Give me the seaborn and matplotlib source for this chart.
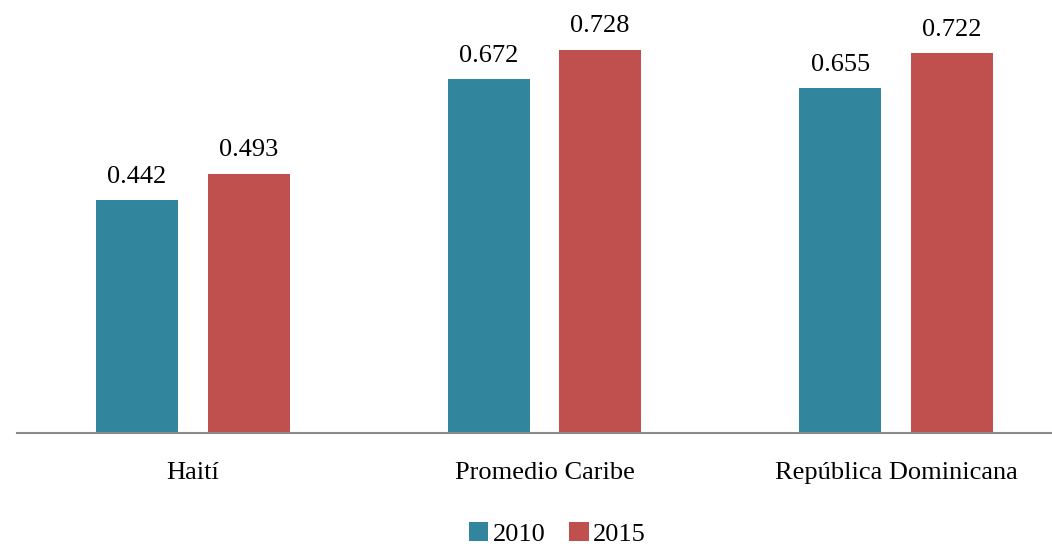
import pandas as pd
import matplotlib.pyplot as plt
import seaborn as sns

categorias = ['Haití', 'Promedio Caribe', 'República Dominicana']
anios = ['2010', '2015']
valores_2010 = [0.442, 0.672, 0.655]
valores_2015 = [0.493, 0.728, 0.722]

datos = pd.DataFrame({
    'Region': categorias * 2,
    'Año': [anios[0]] * 3 + [anios[1]] * 3,
    'Valor': valores_2010 + valores_2015,
})

sns.set_style("white")
plt.rcParams['font.family'] = ['Liberation Serif', 'DejaVu Serif']
plt.rcParams['text.color'] = 'black'
plt.rcParams['xtick.color'] = 'black'

fig = plt.figure(figsize=(10.52, 5.47), dpi=100)
# axes runs a bit past the right edge, like the reference crop
ax = fig.add_axes([17 / 1052, 114 / 547, 1055 / 1052, 421 / 547])

sns.barplot(data=datos, x='Region', y='Valor', hue='Año',
            palette=['#31859C', '#C0504D'], width=0.634, gap=0.264,
            saturation=1, linewidth=0, ax=ax, legend=True)

ax.set_ylim(0, 0.8)
ax.set_xlim(-0.5, 2.5)
ax.set_xlabel('')
ax.set_ylabel('')
ax.set_yticks([])
for s in ['top', 'right', 'left']:
    ax.spines[s].set_visible(False)
ax.spines['bottom'].set_color('#898989')
ax.spines['bottom'].set_linewidth(1.5)
ax.tick_params(axis='x', length=0, pad=21, labelsize=19)

for c in ax.containers:
    ax.bar_label(c, fmt='%.3f', padding=9, fontsize=19, color='black')

ax.legend(loc='center', bbox_to_anchor=(540 / 1055, -0.24), ncol=2,
          frameon=False, fontsize=19, handlelength=0.75, handleheight=0.75,
          handletextpad=0.15, columnspacing=0.9, borderaxespad=0, borderpad=0)

plt.savefig("out.png", dpi=100)
